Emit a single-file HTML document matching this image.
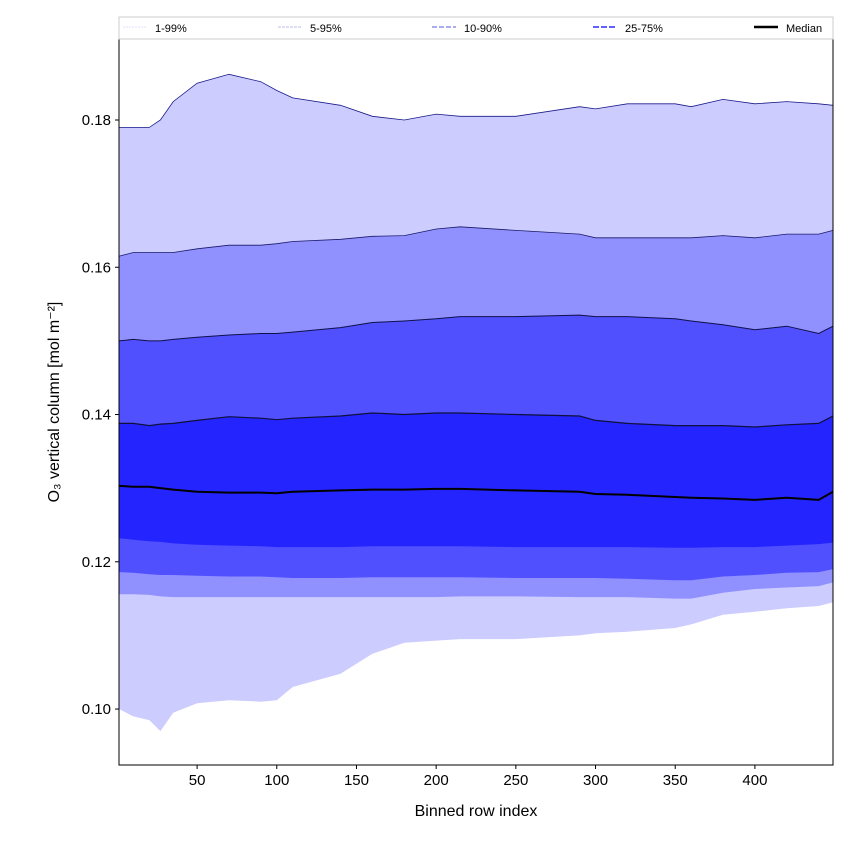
<!DOCTYPE html>
<html><head><meta charset="utf-8"><style>
body{margin:0;background:#fff;font-family:"Liberation Sans","DejaVu Sans",sans-serif}
</style></head><body>
<svg id="c" width="850" height="850" xmlns="http://www.w3.org/2000/svg"></svg>
<script>
const xs   = [1,10,20,27,35,50,70,90,100,110,140,160,180,200,215,250,290,300,320,350,360,380,400,420,440,449];
const p99  = [0.1790,0.1790,0.1790,0.1800,0.1825,0.1850,0.1862,0.1852,0.1840,0.1830,0.1820,0.1805,0.1800,0.1808,0.1805,0.1805,0.1818,0.1815,0.1822,0.1822,0.1818,0.1828,0.1822,0.1825,0.1822,0.1820];
const p95  = [0.1615,0.1620,0.1620,0.1620,0.1620,0.1625,0.1630,0.1630,0.1632,0.1635,0.1638,0.1642,0.1643,0.1652,0.1655,0.1650,0.1645,0.1640,0.1640,0.1640,0.1640,0.1643,0.1640,0.1645,0.1645,0.1650];
const p90  = [0.1500,0.1502,0.1500,0.1500,0.1502,0.1505,0.1508,0.1510,0.1510,0.1512,0.1518,0.1525,0.1527,0.1530,0.1533,0.1533,0.1535,0.1533,0.1533,0.1530,0.1527,0.1522,0.1515,0.1520,0.1510,0.1520];
const p75  = [0.1388,0.1388,0.1385,0.1387,0.1388,0.1392,0.1397,0.1395,0.1393,0.1395,0.1398,0.1402,0.1400,0.1402,0.1402,0.1400,0.1398,0.1392,0.1388,0.1385,0.1385,0.1385,0.1383,0.1386,0.1388,0.1398];
const p50  = [0.1303,0.1302,0.1302,0.1300,0.1298,0.1295,0.1294,0.1294,0.1293,0.1295,0.1297,0.1298,0.1298,0.1299,0.1299,0.1297,0.1295,0.1292,0.1291,0.1288,0.1287,0.1286,0.1284,0.1287,0.1284,0.1295];
const p25  = [0.1232,0.1230,0.1228,0.1227,0.1225,0.1223,0.1222,0.1221,0.1220,0.1220,0.1220,0.1221,0.1221,0.1221,0.1221,0.1220,0.1220,0.1220,0.1220,0.1219,0.1219,0.1220,0.1220,0.1222,0.1224,0.1226];
const p10  = [0.1186,0.1185,0.1183,0.1182,0.1182,0.1181,0.1180,0.1180,0.1179,0.1178,0.1178,0.1179,0.1179,0.1179,0.1179,0.1178,0.1178,0.1178,0.1177,0.1175,0.1175,0.1180,0.1182,0.1185,0.1186,0.1190];
const p05  = [0.1156,0.1156,0.1155,0.1153,0.1152,0.1152,0.1152,0.1152,0.1152,0.1152,0.1152,0.1152,0.1152,0.1152,0.1153,0.1153,0.1152,0.1152,0.1152,0.1150,0.1150,0.1158,0.1163,0.1165,0.1167,0.1172];
const p01  = [0.1000,0.0990,0.0985,0.0970,0.0995,0.1008,0.1012,0.1010,0.1012,0.1030,0.1048,0.1075,0.1090,0.1093,0.1095,0.1095,0.1100,0.1103,0.1105,0.1110,0.1115,0.1128,0.1132,0.1137,0.1140,0.1145];
const xTicks = [50,100,150,200,250,300,350,400];
const yTicks = [0.10,0.12,0.14,0.16,0.18];
const legendLabels = ["1-99%","5-95%","10-90%","25-75%","Median"];

const L=119,R=833,T=39,B=765,X0=1,X1=449,Y0=0.0924,Y1=0.1910;
const sx=v=>L+(v-X0)/(X1-X0)*(R-L);
const sy=v=>B-(v-Y0)/(Y1-Y0)*(B-T);
const svg=document.getElementById('c');
const NS='http://www.w3.org/2000/svg';
function mk(tag,attrs,parent){const e=document.createElementNS(NS,tag);for(const k in attrs)e.setAttribute(k,attrs[k]);(parent||svg).appendChild(e);return e;}
const pts=a=>xs.map((x,i)=>sx(x).toFixed(1)+','+sy(a[i]).toFixed(1));
function band(lo,hi,col,name){
  const p=mk('polygon',{points:pts(hi).concat(pts(lo).reverse()).join(' '),fill:col});
  
  
}
mk('rect',{x:L,y:T,width:R-L,height:B-T,fill:'#fff'});
band(p01,p99,'#ccccff','band-1-99');
band(p05,p95,'#9090ff','band-5-95');
band(p10,p90,'#5050ff','band-10-90');
band(p25,p75,'#2424ff','band-25-75');
function line(a,col,w,name){
  const p=mk('polyline',{points:pts(a).join(' '),fill:'none',stroke:col,'stroke-width':w});
  
  
}
line(p99,'#1a1a8a',0.8,'line-p99');
line(p95,'#1a1a6a',0.8,'line-p95');
line(p90,'#10104a',1,'line-p90');
line(p75,'#10103a',1.2,'line-p75');
line(p50,'#000',2,'line-median');
mk('rect',{x:L,y:T,width:R-L,height:B-T,fill:'none',stroke:'#000','stroke-width':1});
xTicks.forEach(v=>{
  mk('line',{x1:sx(v),x2:sx(v),y1:B,y2:B+4,stroke:'#000'});
  const t=mk('text',{x:sx(v),y:B+20,'text-anchor':'middle','font-size':15});t.textContent=v;
  
  
});
yTicks.forEach(v=>{
  mk('line',{x1:L-4,x2:L,y1:sy(v),y2:sy(v),stroke:'#000'});
  const t=mk('text',{x:L-8,y:sy(v)+5,'text-anchor':'end','font-size':15});t.textContent=v.toFixed(2);
  
  
});
const xt=mk('text',{x:(L+R)/2,y:816,'text-anchor':'middle','font-size':16});xt.textContent='Binned row index';


const yt=mk('text',{x:0,y:0,'text-anchor':'middle','font-size':16,transform:'translate(59,402) rotate(-90)'});yt.textContent='O₃ vertical column [mol m⁻²]';


const lg=mk('g',{});


mk('rect',{x:119,y:17,width:714,height:22,fill:'#fff',stroke:'#ccc'},lg);
const lx=[123,278,432,593,754];
const lc=['#e0e0f8','#b8b8e8','#9090e8','#6060ff','#000'];
const lw=[1,1,1.5,2,2.5];
const ld=['2,1','3,1','5,2','6,2','none'];
legendLabels.forEach((s,i)=>{
  const e=mk('g',{},lg);
  
  
  mk('line',{x1:lx[i],x2:lx[i]+24,y1:27,y2:27,stroke:lc[i],'stroke-width':lw[i],'stroke-dasharray':ld[i]},e);
  const t=mk('text',{x:lx[i]+32,y:32,'font-size':11},e);t.textContent=s;
});
</script>
</body></html>
